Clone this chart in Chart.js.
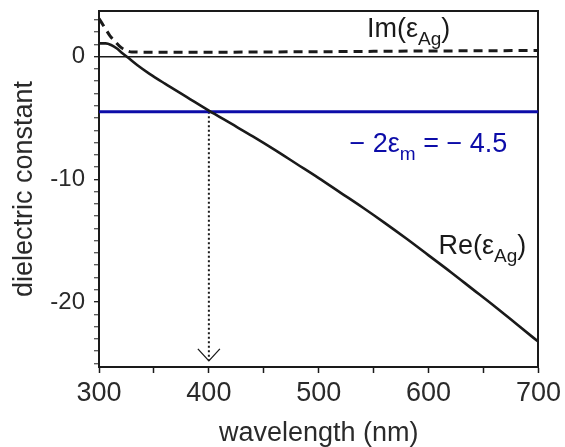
<!DOCTYPE html>
<html>
<head>
<meta charset="utf-8">
<script src="https://cdn.jsdelivr.net/npm/chart.js@4.4.1/dist/chart.umd.min.js"></script>
<style>
  html, body { margin: 0; padding: 0; background: #fff; }
  #wrap { width: 565px; height: 447px; }
</style>
</head>
<body>
<div id="wrap"><canvas id="chart"></canvas></div>
<script>
// Silver dielectric function
const reWavelength = [300, 306, 311, 316, 321, 326, 335, 346, 360, 380, 400, 420, 440, 460, 480, 500, 520, 540, 560, 580, 600, 620, 640, 660, 680, 700];
const reEpsilon    = [1.08, 1.08, 0.95, 0.68, 0.3, -0.05, -0.7, -1.4, -2.2, -3.3, -4.4, -5.45, -6.5, -7.6, -8.75, -9.9, -11.1, -12.3, -13.55, -14.85, -16.2, -17.55, -18.95, -20.35, -21.8, -23.25];

const imWavelength = [300, 305, 310, 315, 320, 325, 330, 350, 400, 450, 500, 550, 600, 650, 700];
const imEpsilon    = [3.1, 2.4, 1.7, 1.2, 0.75, 0.5, 0.38, 0.36, 0.36, 0.38, 0.4, 0.43, 0.46, 0.48, 0.5];

const hostLevel = -4.5;            // -2 eps_m
const resonanceWavelength = 400;
const arrowEnd = -24.8;

const xTickLabels = [300, 400, 500, 600, 700];
const yTickLabels = [0, -10, -20];

// range deliberately not a whole number of steps, otherwise chart.js
// starts the ticks at min (-25.3, -24.3, ...) instead of at integers
const X_MIN = 300, X_MAX = 700, Y_MIN = -25.3, Y_MAX = 3.72;
const FONT = '"Liberation Sans", Arial, Helvetica, sans-serif';
const INK = '#1a1a1a';
const TEXT = '#2a2a2a';
const BLUE = '#0c0ca8';

const pts = (xs, ys) => xs.map((x, i) => ({ x, y: ys[i] }));
const near = (v, list) => list.find(t => Math.abs(v - t) < 1e-6);

function drawRich(ctx, x, y, parts, color) {
    ctx.fillStyle = color;
    ctx.textBaseline = 'alphabetic';
    ctx.textAlign = 'left';
    for (const p of parts) {
        ctx.font = (p.sub ? '19px ' : '27px ') + FONT;
        ctx.fillText(p.t, x, y + (p.sub ? 8 : 0));
        x += ctx.measureText(p.t).width;
    }
}

// text labels + open arrow head, placed in data coordinates
const annotations = {
    id: 'annotations',
    afterDatasetsDraw(chart) {
        const { ctx, scales: { x, y } } = chart;
        ctx.save();
        const ax = x.getPixelForValue(resonanceWavelength);
        const ay = y.getPixelForValue(arrowEnd);
        ctx.strokeStyle = INK;
        ctx.lineWidth = 1.3;
        ctx.beginPath();
        ctx.moveTo(ax - 11, ay - 12);
        ctx.lineTo(ax, ay);
        ctx.lineTo(ax + 11, ay - 12);
        ctx.stroke();

        drawRich(ctx, x.getPixelForValue(544), y.getPixelForValue(1.58),
            [{ t: 'Im(ε' }, { t: 'Ag', sub: true }, { t: ')' }], INK);
        drawRich(ctx, x.getPixelForValue(609), y.getPixelForValue(-16.1),
            [{ t: 'Re(ε' }, { t: 'Ag', sub: true }, { t: ')' }], INK);
        drawRich(ctx, x.getPixelForValue(528), y.getPixelForValue(-7.8),
            [{ t: '− 2ε' }, { t: 'm', sub: true }, { t: ' = − 4.5' }], BLUE);
        ctx.restore();
    }
};

const ctx = document.getElementById('chart').getContext('2d');

new Chart(ctx, {
    type: 'line',
    data: {
        datasets: [
            { label: 'Re', data: pts(reWavelength, reEpsilon), borderColor: INK, borderWidth: 2.6, cubicInterpolationMode: 'monotone', order: 0 },
            { label: 'Im', data: pts(imWavelength, imEpsilon), borderColor: INK, borderWidth: 3, borderDash: [9, 6], cubicInterpolationMode: 'monotone', order: 1 },
            { label: 'host', data: pts([X_MIN, X_MAX], [hostLevel, hostLevel]), borderColor: BLUE, borderWidth: 3, order: 2 },
            { label: 'arrow', data: pts([resonanceWavelength, resonanceWavelength], [hostLevel, arrowEnd]), borderColor: INK, borderWidth: 2, borderDash: [2, 2.5], order: 3 }
        ]
    },
    options: {
        animation: false,
        responsive: true,
        maintainAspectRatio: false,
        elements: { point: { radius: 0 } },
        layout: { padding: { top: 11, right: 24, left: 0, bottom: 0 } },
        plugins: { legend: { display: false }, tooltip: { enabled: false } },
        scales: {
            x: {
                type: 'linear', min: X_MIN, max: X_MAX,
                afterFit: s => { s.height = 80; },
                border: { color: INK, width: 2 },
                grid: { drawOnChartArea: false, tickLength: 6, tickColor: INK, tickWidth: 1.5 },
                ticks: {
                    stepSize: 50, autoSkip: false, maxRotation: 0, color: TEXT, padding: 4,
                    font: { family: FONT, size: 27 },
                    callback: v => { const t = near(v, xTickLabels); return t === undefined ? '' : String(t); }
                },
                title: { display: true, text: 'wavelength (nm)', color: TEXT, font: { family: FONT, size: 27, lineHeight: 1 }, padding: { top: 0, bottom: 0 } }
            },
            y: {
                type: 'linear', min: Y_MIN, max: Y_MAX,
                afterFit: s => { s.width = 99; s.paddingTop = 0; s.paddingBottom = 0; },
                border: { color: INK, width: 2 },
                grid: {
                    drawOnChartArea: true, tickLength: 5, tickWidth: 1.3,
                    color: c => (c.tick && near(c.tick.value, [0]) !== undefined) ? INK : 'rgba(0,0,0,0)',
                    lineWidth: 1.4,
                    tickColor: c => (c.tick && near(c.tick.value, yTickLabels) !== undefined) ? INK : '#555'
                },
                ticks: {
                    stepSize: 1, autoSkip: false, includeBounds: false, color: TEXT, padding: 9,
                    font: { family: FONT, size: 24 },
                    callback: v => { const t = near(v, yTickLabels); return t === undefined ? '' : String(t); }
                },
                title: { display: true, text: 'dielectric constant', color: TEXT, font: { family: FONT, size: 27 }, padding: { top: 8, bottom: 0 } }
            },
            xTop: {
                type: 'linear', position: 'top', min: X_MIN, max: X_MAX,
                border: { color: INK, width: 2 },
                grid: { display: false, drawTicks: false },
                ticks: { display: false }
            },
            yRight: {
                type: 'linear', position: 'right', min: Y_MIN, max: Y_MAX,
                border: { color: INK, width: 2 },
                grid: { display: false, drawTicks: false },
                ticks: { display: false }
            }
        }
    },
    plugins: [annotations]
});
</script>
</body>
</html>
